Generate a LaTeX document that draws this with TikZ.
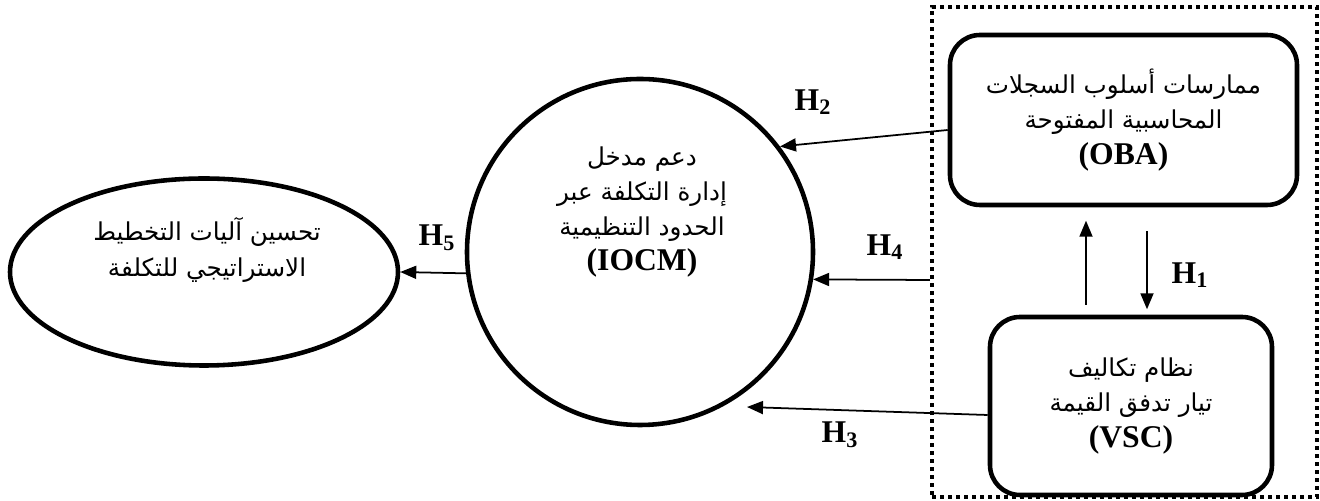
\documentclass[tikz,border=0pt]{standalone}
\usepackage{fontspec}
\setmainfont{Liberation Serif}
\newfontfamily\arabicfont[Script=Arabic]{DejaVu Sans}
\TeXXeTstate=1
\usepackage{tikz}
\usetikzlibrary{arrows.meta, shapes.geometric, calc}
\newcommand{\artxt}[1]{{\arabicfont\beginR #1\endR}}
\newcommand{\sigla}[1]{{\fontsize{18}{20}\selectfont\bfseries #1}}
\tikzset{
  every picture/.style={>={Triangle[length=0.32cm, width=0.26cm]}},
  borde/.style={draw=black, line width=2.6pt},
  caja/.style={borde, rectangle, rounded corners=0.6cm, inner sep=0pt, align=center,
               font=\fontsize{14}{20}\selectfont},
  circulo/.style={borde, circle, minimum size=6.92cm, inner sep=0pt},
  elipse/.style={borde, ellipse, minimum width=7.76cm, minimum height=3.74cm, inner sep=0pt},
  texto/.style={align=center, font=\fontsize{14}{20}\selectfont},
  grupo/.style={draw=black, line width=2.4pt, dash pattern=on 0.08cm off 0.08cm,
                minimum width=7.7cm, minimum height=9.8cm, inner sep=0pt},
  flecha/.style={->, line width=1pt},
  hip/.style={font=\fontsize{18}{20}\selectfont\bfseries},
}
\begin{document}
\begin{tikzpicture}
  \useasboundingbox (0,0) rectangle (26.4,10.02);
  \node[grupo] (G) at (22.49,4.98) {};
  \node[caja, minimum width=6.94cm, minimum height=3.4cm] (OBA) at (22.47,7.62)
    {\artxt{ممارسات أسلوب السجلات}\\ \artxt{المحاسبية المفتوحة}\\ \sigla{(OBA)}};
  \node[caja, minimum width=5.64cm, minimum height=3.56cm] (VSC) at (22.62,1.90)
    {\artxt{نظام تكاليف}\\ \artxt{تيار تدفق القيمة}\\ \sigla{(VSC)}};
  \node[circulo] (IOCM) at (12.8,4.98) {};
  \node[texto] (IOCMt) at (12.84,5.78)
    {\artxt{دعم مدخل}\\ \artxt{إدارة التكلفة عبر}\\ \artxt{الحدود التنظيمية}\\ \sigla{(IOCM)}};
  \node[elipse] (M) at (4.08,4.58) {};
  \node[texto] (Mt) at (4.14,5.02)
    {\artxt{تحسين آليات التخطيط}\\ \artxt{الاستراتيجي للتكلفة}};
  \coordinate (h3fin) at (14.94,1.88);
  \draw[flecha] ([yshift=-0.2cm]OBA.west) -- (IOCM.37);
  \draw[flecha] ([yshift=-0.56cm]G.west) -- (IOCM.-9.3);
  \draw[flecha] ([yshift=-0.18cm]VSC.west) -- (h3fin);
  \draw[flecha] (IOCM.187) -- (M.east);
  \draw[flecha] ($(VSC.north)+(-0.9,0.2)$) -- ($(VSC.north)+(-0.9,1.88)$);
  \draw[flecha] ($(OBA.south)+(0.47,-0.48)$) -- ($(OBA.south)+(0.47,-2.04)$);
  \node[hip] (h1) at (23.8,4.52) {H\textsubscript{1}};
  \node[hip] (h2) at (16.26,7.98) {H\textsubscript{2}};
  \node[hip] (h3) at (16.8,1.32) {H\textsubscript{3}};
  \node[hip] (h4) at (17.7,5.08) {H\textsubscript{4}};
  \node[hip] (h5) at (8.74,5.26) {H\textsubscript{5}};
\end{tikzpicture}
\end{document}
